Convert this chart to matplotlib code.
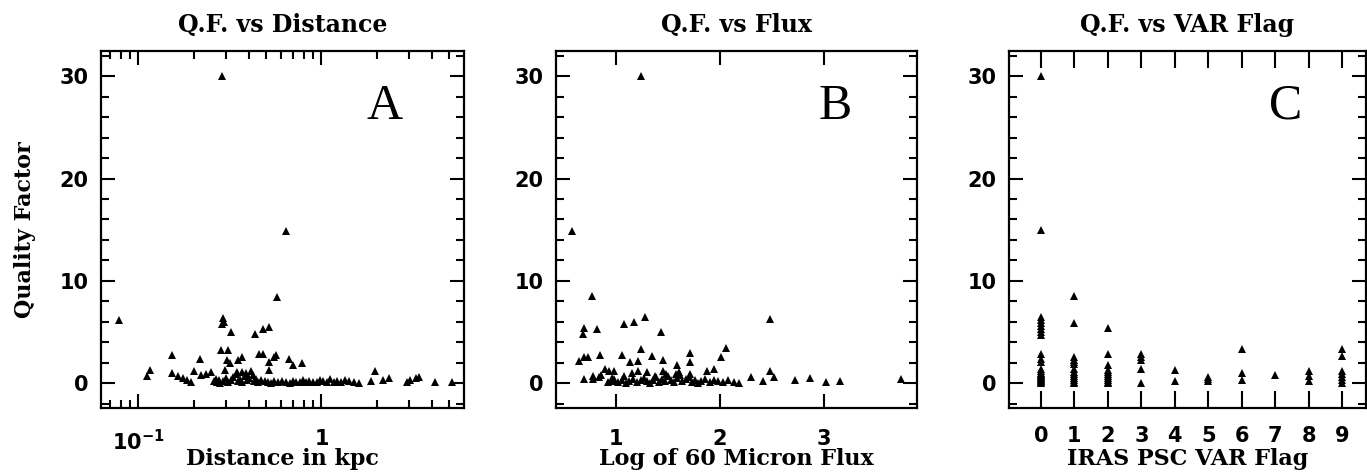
import numpy as np
import matplotlib
matplotlib.use("Agg")
import matplotlib.pyplot as plt
from matplotlib.ticker import MultipleLocator, FixedLocator, NullFormatter

# ---- panel A: quality factor vs distance (kpc) ----
dist_kpc = [0.286, 0.636, 0.571, 0.078, 0.29, 0.295, 0.285, 0.322, 0.434, 0.48, 0.52,
            0.152, 0.284, 0.307, 0.306, 0.315, 0.351, 0.366, 0.455, 0.48, 0.52, 0.55, 0.565,
            0.663, 0.697, 0.78, 0.218,
            0.112, 0.116, 0.152, 0.165, 0.175, 0.185, 0.195, 0.202, 0.22, 0.235, 0.25,
            0.296, 0.345, 0.366, 0.52, 1.95, 1.87, 2.16, 2.35, 2.93, 3.05, 3.3, 3.4, 4.19, 5.18,
            0.26, 0.265, 0.27, 0.275, 0.28, 0.29, 0.30, 0.31, 0.32, 0.33,
            0.34, 0.35, 0.36, 0.37, 0.38, 0.385, 0.39, 0.40, 0.41, 0.42,
            0.43, 0.44, 0.45, 0.47, 0.49, 0.51, 0.53, 0.55, 0.58, 0.61,
            0.64, 0.67, 0.70, 0.73, 0.76, 0.79, 0.82, 0.86, 0.90, 0.94,
            0.98, 1.02, 1.07, 1.12, 1.17, 1.22, 1.28, 1.34, 1.42, 1.5, 1.6]
qf_dist = [30.0, 14.9, 8.4, 6.2, 6.4, 6.0, 5.8, 5.0, 4.8, 5.3, 5.5,
           2.7, 3.2, 3.2, 2.25, 2.0, 2.25, 2.5, 2.8, 2.8, 2.1, 2.5, 2.7,
           2.4, 1.8, 2.0, 2.4,
           0.7, 1.3, 0.95, 0.7, 0.5, 0.3, 0.15, 1.17, 0.8, 0.9, 1.1,
           1.3, 1.1, 1.1, 1.3, 1.2, 0.2, 0.3, 0.45, 0.1, 0.3, 0.45, 0.55, 0.1, 0.1,
           0.2, 0.4, 0.1, 0.3, 0.0, 0.2, 0.5, 0.1, 0.3, 0.6,
           0.9, 0.2, 0.4, 0.1, 0.7, 1.0, 0.3, 0.5, 1.2, 0.8,
           0.2, 0.4, 0.1, 0.3, 0.2, 0.1, 0.0, 0.2, 0.1, 0.2,
           0.1, 0.0, 0.2, 0.1, 0.1, 0.3, 0.1, 0.2, 0.1, 0.1,
           0.3, 0.2, 0.1, 0.4, 0.1, 0.2, 0.1, 0.3, 0.2, 0.1, 0.0]

# ---- panel B: quality factor vs log 60 micron flux ----
log_flux = [1.24, 0.58, 0.77, 0.70, 0.69, 0.82, 1.08, 1.18, 1.28, 1.43, 2.48,
            0.65, 0.70, 0.73, 0.85, 1.06, 1.14, 1.21, 1.24, 1.35, 1.45, 1.59, 1.71, 1.71, 2.01, 2.06,
            0.70, 0.78, 0.78, 0.84, 0.86, 0.90, 0.94, 0.98, 0.96, 0.98, 1.08, 1.16, 1.21, 1.30,
            1.38, 1.45, 1.48, 1.58, 1.61, 1.71, 1.88, 1.94, 2.48, 2.52, 2.30, 2.41, 2.72, 2.86,
            3.02, 3.15, 3.74, 0.93, 0.97,
            1.02, 1.06, 1.10, 1.13, 1.17, 1.20, 1.24, 1.27, 1.30, 1.33,
            1.36, 1.39, 1.42, 1.44, 1.47, 1.50, 1.53, 1.56, 1.59, 1.62,
            1.64, 1.67, 1.70, 1.73, 1.76, 1.79, 1.82, 1.86, 1.90, 1.94,
            1.98, 2.03, 2.08, 2.13, 2.18]
qf_flux = [30.0, 14.9, 8.5, 5.4, 4.8, 5.3, 5.8, 6.0, 6.5, 4.95, 6.25,
           2.2, 2.5, 2.5, 2.7, 2.7, 2.05, 2.2, 3.3, 2.6, 2.3, 1.8, 2.9, 2.1, 2.5, 3.4,
           0.4, 0.7, 0.4, 0.55, 0.8, 1.4, 1.2, 1.2, 0.5, 0.4, 0.7, 0.95, 1.2, 1.1,
           0.7, 1.2, 0.9, 0.9, 1.05, 0.9, 1.2, 1.4, 1.2, 0.6, 0.55, 0.25, 0.3, 0.5,
           0.1, 0.2, 0.4, 0.1, 0.2,
           0.1, 0.3, 0.0, 0.2, 0.4, 0.1, 0.3, 0.5, 0.2, 0.0,
           0.3, 0.6, 0.1, 0.4, 0.2, 0.7, 0.3, 0.1, 0.5, 0.8,
           0.2, 0.4, 0.6, 0.1, 0.3, 0.0, 0.2, 0.4, 0.1, 0.3,
           0.2, 0.1, 0.3, 0.1, 0.0]

# ---- panel C: quality factor vs IRAS PSC VAR flag ----
var_flags = [0, 1, 2, 3, 4, 5, 6, 7, 8, 9]
qf_by_flag = [
    [30.0, 15.0, 6.5, 6.2, 5.9, 5.6, 5.3, 5.0, 4.7, 2.8, 2.4, 2.1,
     1.4, 1.2, 1.0, 0.9, 0.8, 0.7, 0.6, 0.5, 0.4, 0.3, 0.2, 0.1, 0.0],
    [8.5, 5.9, 2.5, 2.3, 2.1, 1.9, 1.4, 1.1, 0.9, 0.7, 0.5, 0.3, 0.1, 0.0],
    [5.4, 2.8, 1.8, 1.3, 1.1, 0.9, 0.7, 0.5, 0.3, 0.1, 0.0],
    [2.8, 2.5, 2.3, 1.4, 0.05],
    [1.25, 0.2],
    [0.6, 0.4, 0.2],
    [3.3, 1.0, 0.3],
    [0.75],
    [1.2, 0.7, 0.2],
    [3.35, 2.65, 1.2, 0.9, 0.6, 0.3, 0.05],
]

title_font = dict(family="DejaVu Serif", fontweight="bold", fontsize=17)
axis_font = dict(family="DejaVu Serif", fontweight="bold", fontsize=16)
TICK_SIZE = 15
MS = 5.5

fig = plt.figure(figsize=(13.67, 4.74), dpi=100)
bottom, height = 0.139, 0.753
ax_a = fig.add_axes([0.0739, bottom, 0.2655, height])
ax_b = fig.add_axes([0.4067, bottom, 0.2641, height])
ax_c = fig.add_axes([0.7381, bottom, 0.2612, height])


def style_axes(ax):
    for sp in ax.spines.values():
        sp.set_linewidth(1.6)
    ax.set_ylim(-2.45, 32.45)
    ax.yaxis.set_major_locator(FixedLocator([0, 10, 20, 30]))
    ax.yaxis.set_minor_locator(MultipleLocator(2))
    ax.tick_params(which="both", direction="in", top=True, right=True, width=1.5)
    ax.tick_params(which="major", length=10)
    ax.tick_params(which="minor", length=6)
    ax.tick_params(axis="y", which="major", pad=9)
    ax.tick_params(axis="x", which="major", pad=15)
    for lab in ax.get_xticklabels() + ax.get_yticklabels():
        lab.set_fontfamily("DejaVu Sans")
        lab.set_fontweight("bold")
        lab.set_fontsize(TICK_SIZE)


def finish(ax, title, xlabel, letter, lx):
    ax.set_title(title, pad=14, **title_font)
    ax.set_xlabel(xlabel, **axis_font)
    ax.xaxis.set_label_coords(0.5, -0.112)
    ax.text(lx, 0.845, letter, transform=ax.transAxes, ha="center", va="center",
            family="Liberation Serif", fontsize=36)


# A
ax_a.plot(dist_kpc, qf_dist, "^", color="black", ms=MS, mew=0)
ax_a.set_xscale("log")
ax_a.set_xlim(0.0625, 6.0)
ax_a.xaxis.set_major_locator(FixedLocator([0.1, 1]))
ax_a.set_xticklabels([r"$\mathbf{10^{-1}}$", "1"])
ax_a.xaxis.set_minor_locator(FixedLocator(
    [0.07, 0.08, 0.09] + [k / 10 for k in range(2, 10)] + [2, 3, 4, 5]))
ax_a.xaxis.set_minor_formatter(NullFormatter())
style_axes(ax_a)
finish(ax_a, "Q.F. vs Distance", "Distance in kpc", "A", 0.78)
ax_a.set_ylabel("Quality Factor", labelpad=17, **axis_font)

# B
ax_b.plot(log_flux, qf_flux, "^", color="black", ms=MS, mew=0)
ax_b.set_xlim(0.427, 3.89)
ax_b.xaxis.set_major_locator(FixedLocator([1, 2, 3]))
style_axes(ax_b)
finish(ax_b, "Q.F. vs Flux", "Log of 60 Micron Flux", "B", 0.773)

# C
for flag, vals in zip(var_flags, qf_by_flag):
    ax_c.plot([flag] * len(vals), vals, "^", color="black", ms=MS, mew=0)
ax_c.set_xlim(-0.957, 9.72)
ax_c.xaxis.set_major_locator(FixedLocator(var_flags))
style_axes(ax_c)
ax_c.tick_params(axis="x", which="major", length=12, pad=13)
finish(ax_c, "Q.F. vs VAR Flag", "IRAS PSC VAR Flag", "C", 0.776)

fig.savefig("out.png", dpi=100)
